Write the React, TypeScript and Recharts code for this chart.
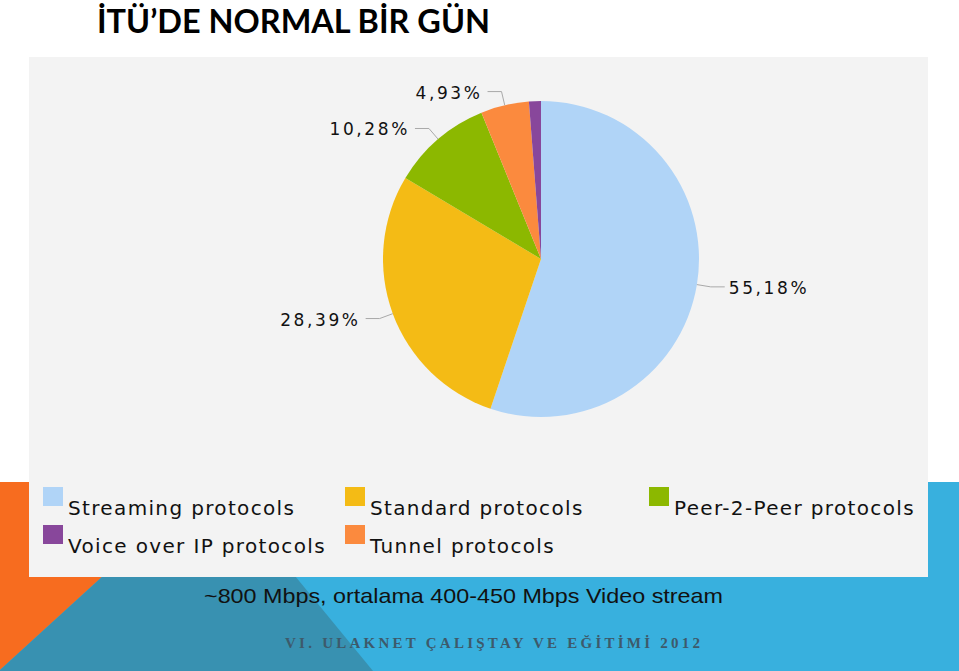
import { PieChart, Pie, Cell, Legend } from 'recharts';

// traffic share by protocol group, clockwise from 12 o'clock
const CATEGORIES = [
  'Streaming protocols',
  'Standard protocols',
  'Peer-2-Peer protocols',
  'Tunnel protocols',
  'Voice over IP protocols',
];
const SHARES = [55.18, 28.39, 10.28, 4.93, 1.22];
const COLORS = ['#b0d4f7', '#f4bb15', '#8cb800', '#fb8a3e', '#88479b'];
// legend reads row by row, 3 per row
const LEGEND_ORDER = [
  'Streaming protocols',
  'Standard protocols',
  'Peer-2-Peer protocols',
  'Voice over IP protocols',
  'Tunnel protocols',
];

const TITLE = 'İTÜ’DE NORMAL BİR GÜN';
const NOTE = '~800 Mbps, ortalama 400-450 Mbps Video stream';
const FOOTER = 'VI. ULAKNET ÇALIŞTAY VE EĞİTİMİ 2012';

const data = CATEGORIES.map((name, i) => ({ name, share: SHARES[i] }));

const RAD = Math.PI / 180;
const fmtPct = (v: number) => `${v.toFixed(2).replace('.', ',')}%`;
const pixelFont = '"DejaVu Sans", Verdana, sans-serif';

const renderLabel = (props: any) => {
  const { cx, cy, midAngle, outerRadius, index } = props;
  const v = props.payload?.share ?? props.value;
  if (v < 2) return null;
  const cos = Math.cos(-midAngle * RAD);
  const sin = Math.sin(-midAngle * RAD);
  const x0 = cx + outerRadius * cos;
  const y0 = cy + outerRadius * sin;
  const x1 = cx + (outerRadius + 14) * cos;
  const y1 = cy + (outerRadius + 14) * sin;
  const right = cos >= 0;
  const x2 = x1 + (right ? 14 : -14);
  return (
    <g key={`lbl-${index}`}>
      <polyline points={`${x0},${y0} ${x1},${y1} ${x2},${y1}`} fill="none" stroke="#a9a9a9" strokeWidth={1} />
      <text
        x={x2 + (right ? 4 : -5)}
        y={y1}
        dy={7}
        textAnchor={right ? 'start' : 'end'}
        fill="#111"
        fontFamily={pixelFont}
        fontSize={17}
        letterSpacing={2.6}
      >
        {fmtPct(v)}
      </text>
    </g>
  );
};

const COL_X = [14, 316, 620];
const ROW_Y = [5, 43];

const renderLegend = (props: any) => {
  const payload: any[] = props.payload || [];
  const items = LEGEND_ORDER.map(n => payload.find(p => p.value === n)).filter(Boolean);
  return (
    <div style={{ position: 'relative', width: 899, height: 95 }}>
      {items.map((it: any, i: number) => {
        const x = COL_X[i % 3];
        const y = ROW_Y[Math.floor(i / 3)];
        return (
          <div key={it.value}>
            <div style={{ position: 'absolute', left: x, top: y, width: 20, height: 19, background: it.color }} />
            <div
              style={{
                position: 'absolute',
                left: x + 25,
                top: y + 9,
                fontFamily: pixelFont,
                fontSize: 20,
                lineHeight: '24px',
                letterSpacing: 1.35,
                color: '#111',
                whiteSpace: 'nowrap',
              }}
            >
              {it.value}
            </div>
          </div>
        );
      })}
    </div>
  );
};

export default function App() {
  return (
    <div style={{ position: 'absolute', left: 0, top: 0, width: 959, height: 671, overflow: 'hidden', background: '#fff' }}>
      <svg width={959} height={671} style={{ position: 'absolute', left: 0, top: 0 }}>
        <rect x={0} y={482} width={959} height={189} fill="#38b0de" />
        <polygon points="0,482 206,482 0,670" fill="#f76c1f" />
        <polygon points="206,482 218,482 373,671 0,671 0,670" fill="#3891b1" />
        <text
          x={97}
          y={33}
          textLength={393}
          lengthAdjust="spacingAndGlyphs"
          fontFamily='Lato, "Open Sans", sans-serif'
          fontWeight={700}
          fontSize={32}
          fill="#000"
        >
          {TITLE}
        </text>
        <text
          x={204}
          y={603}
          textLength={519}
          lengthAdjust="spacingAndGlyphs"
          fontFamily='"Liberation Sans", Arial, sans-serif'
          fontSize={21}
          fill="#111"
        >
          {NOTE}
        </text>
        <text
          x={285}
          y={648}
          textLength={415}
          lengthAdjust="spacing"
          fontFamily='"Liberation Serif", serif'
          fontWeight={700}
          fontSize={15}
          fill="#3d5a6b"
        >
          {FOOTER}
        </text>
      </svg>
      <div style={{ position: 'absolute', left: 29, top: 57, width: 899, height: 520, background: '#f3f3f3' }}>
        <PieChart width={899} height={520} margin={{ top: 0, right: 0, bottom: 0, left: 0 }}>
          <Pie
            data={data}
            dataKey="share"
            nameKey="name"
            cx={512}
            cy={202}
            outerRadius={158}
            startAngle={90}
            endAngle={-270}
            stroke="none"
            label={renderLabel}
            labelLine={false}
            isAnimationActive={false}
          >
            {data.map((d, i) => (
              <Cell key={d.name} fill={COLORS[i]} />
            ))}
          </Pie>
          <Legend
            verticalAlign="bottom"
            content={renderLegend}
            wrapperStyle={{ left: 0, top: 425, width: 899, height: 95 }}
          />
        </PieChart>
      </div>
    </div>
  );
}
